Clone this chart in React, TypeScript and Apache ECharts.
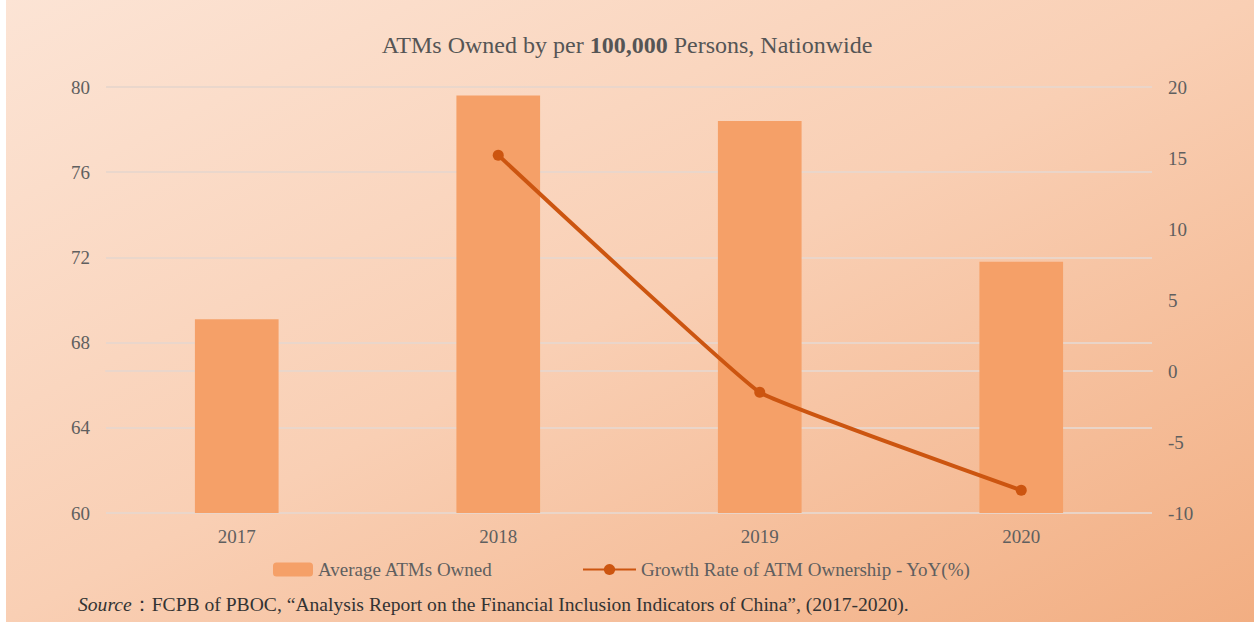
import React, { useEffect, useRef } from "react";
import * as echarts from "echarts";

const categories = ["2017", "2018", "2019", "2020"];
const atmsOwned = [69.1, 79.6, 78.4, 71.8];
const growthRate: (number | null)[] = [null, 15.2, -1.5, -8.4];
const leftTicks = { min: 60, max: 80, interval: 4 };
const rightTicks = { min: -10, max: 20, interval: 5 };
const barName = "Average ATMs Owned";
const lineName = "Growth Rate of ATM Ownership - YoY(%)";
const sourceLabel = "Source";
const sourceText = "：FCPB of PBOC, \u201CAnalysis Report on the Financial Inclusion Indicators of China\u201D, (2017-2020).";

const SERIF = "'Liberation Serif', 'DejaVu Serif', serif";
const TEXT = "#5f5f5f";
const GRID = "rgba(232,214,204,0.9)";
const BAR = "#F5A068";
const LINE = "#CC5510";

export default function App() {
  const ref = useRef<HTMLDivElement>(null);
  useEffect(() => {
    document.body.style.margin = "0";
    const chart = echarts.init(ref.current!, null, { renderer: "svg" });
    chart.setOption({
      animation: false,
      backgroundColor: new echarts.graphic.LinearGradient(0, 0, 1, 1, [
        { offset: 0, color: "#FCE4D5" },
        { offset: 0.5, color: "#F9CFB4" },
        { offset: 1, color: "#F2AE82" },
      ]),
      title: {
        text: "{a|ATMs Owned by per }{b|100,000}{a| Persons, Nationwide}",
        left: "center",
        top: 28,
        textStyle: {
          fontWeight: "normal",
          rich: {
            a: { fontFamily: SERIF, fontSize: 24, color: "#555555", fontWeight: "normal" },
            b: { fontFamily: SERIF, fontSize: 24, color: "#555555", fontWeight: "bold" },
          },
        },
      },
      legend: [
        {
          data: [barName],
          left: 268,
          top: 555,
          itemWidth: 40,
          itemHeight: 14,
          textStyle: { fontFamily: SERIF, fontSize: 19, color: TEXT },
        },
        {
          data: [lineName],
          left: 577,
          top: 555,
          itemWidth: 53,
          itemHeight: 14,
          textStyle: { fontFamily: SERIF, fontSize: 19, color: TEXT },
        },
      ],
      grid: { left: 106, right: 102, top: 87, bottom: 109 },
      xAxis: {
        type: "category",
        data: categories,
        axisLine: { lineStyle: { color: GRID, width: 2 } },
        axisTick: { show: false },
        axisLabel: { fontFamily: SERIF, fontSize: 19, color: TEXT, margin: 14 },
      },
      yAxis: [
        {
          type: "value",
          min: leftTicks.min,
          max: leftTicks.max,
          interval: leftTicks.interval,
          axisLine: { show: false },
          axisTick: { show: false },
          splitLine: { lineStyle: { color: GRID, width: 2 } },
          axisLabel: { fontFamily: SERIF, fontSize: 19, color: TEXT, margin: 16 },
        },
        {
          type: "value",
          min: rightTicks.min,
          max: rightTicks.max,
          interval: rightTicks.interval,
          axisLine: { show: false },
          axisTick: { show: false },
          splitLine: { show: false },
          axisLabel: { fontFamily: SERIF, fontSize: 19, color: TEXT, margin: 16 },
        },
      ],
      series: [
        {
          name: barName,
          type: "bar",
          data: atmsOwned,
          barWidth: "32%",
          itemStyle: { color: BAR },
        },
        {
          name: lineName,
          type: "line",
          yAxisIndex: 1,
          data: growthRate,
          smooth: 0.08,
          symbol: "circle",
          symbolSize: 11,
          lineStyle: { color: LINE, width: 4 },
          itemStyle: { color: LINE },
        },
      ],
      graphic: [
        {
          type: "rect",
          shape: { x: 0, y: 0, width: 6, height: 622 },
          style: { fill: "#ffffff" },
          silent: true,
        },
        {
          type: "text",
          left: 78,
          top: 594,
          style: {
            text: "{i|" + sourceLabel + "}{n|" + sourceText + "}",
            rich: {
              i: { fontFamily: SERIF, fontSize: 19.6, fontStyle: "italic", fill: "#333333" },
              n: { fontFamily: SERIF, fontSize: 19.6, fill: "#333333" },
            },
          },
        },
      ],
    });
    return () => chart.dispose();
  }, []);
  return <div ref={ref} style={{ width: 1254, height: 622 }} />;
}
